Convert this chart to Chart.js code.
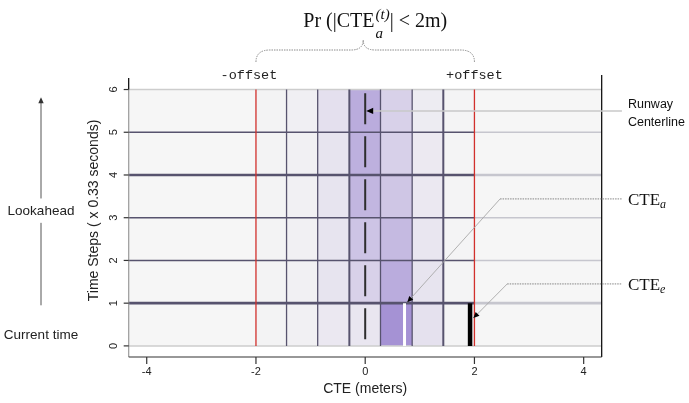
<!DOCTYPE html>
<html>
<head>
<meta charset="utf-8">
<script src="https://cdn.jsdelivr.net/npm/chart.js@4.4.0/dist/chart.umd.min.js"></script>
<style>
  html, body { margin: 0; padding: 0; background: #fff; }
  #wrap { width: 689px; height: 403px; }
</style>
</head>
<body>
<div id="wrap"><canvas id="cteChart" width="689" height="403"></canvas></div>
<script>
// axis ticks
var xTicks = [-4, -2, 0, 2, 4];
var yTicks = [0, 1, 2, 3, 4, 5, 6];

// heatmap grid: column edges (meters) and time step rows
var colEdges = [-2, -1.44, -0.87, -0.29, 0.28, 0.86, 1.43, 2];
var rowEdges = [0, 1, 2, 3, 4, 5, 6];
// shading level of each cell, bottom row (step 0) first
var cellLevels = [
    [0.02, 0.05, 0.12, 0.14, 0.94, 0.19, 0.01],
    [0.02, 0.05, 0.16, 0.34, 0.70, 0.16, 0.01],
    [0.02, 0.05, 0.16, 0.47, 0.56, 0.14, 0.01],
    [0.02, 0.05, 0.16, 0.60, 0.45, 0.12, 0.01],
    [0.02, 0.05, 0.16, 0.66, 0.35, 0.11, 0.01],
    [0.02, 0.06, 0.20, 0.70, 0.34, 0.09, 0.01]
];

var offsetLimit = 2;      // +/- offset (m)
var centerlineX = 0;
var cteActual = 0.72;     // CTE_a at current time
var cteEstimate = 1.92;   // CTE_e at current time
var currentStep = 1;
var thickRows = [1, 4];

var X_MIN = -4.33, X_MAX = 4.33, Y_MIN = -0.26, Y_MAX = 6.34;
var DARK = '#57536e';
var LIGHT = '#c6c6ce';
var SANS = '"Liberation Sans", Arial, sans-serif';
var SERIF = '"Liberation Serif", "Times New Roman", serif';
var MONO = '"Liberation Mono", "Courier New", monospace';

function seg(x0, y0, x1, y1, color, width, order, dash) {
    return {
        type: 'line',
        data: [{x: x0, y: y0}, {x: x1, y: y1}],
        borderColor: color,
        borderWidth: width,
        borderDash: dash || [],
        borderCapStyle: 'butt',
        pointRadius: 0,
        fill: false,
        order: order
    };
}

var datasets = [];
// horizontal step lines
rowEdges.forEach(function (r) {
    if (r === rowEdges[0] || r === rowEdges[rowEdges.length - 1]) {
        datasets.push(seg(X_MIN, r, X_MAX, r, '#cdcdcd', 1.5, 7));
    } else {
        var w = thickRows.indexOf(r) >= 0 ? 2.6 : 1.4;
        datasets.push(seg(X_MIN, r, offsetLimit, r, DARK, w, 6));
        datasets.push(seg(offsetLimit, r, X_MAX, r, LIGHT, w, 6));
    }
});
// column dividers
colEdges.slice(1, -1).forEach(function (c) {
    var w = (c === -0.29 || c === 1.43) ? 2 : 1.3;
    datasets.push(seg(c, 0, c, 6, DARK, w, 5));
});
// offset limits
datasets.push(seg(-offsetLimit, 0, -offsetLimit, 6, '#d2302c', 1.3, 4));
datasets.push(seg(offsetLimit, 0, offsetLimit, 6, '#d2302c', 1.3, 4));
// runway centerline
datasets.push(seg(centerlineX, 5.91, centerlineX, 0.13, '#2e2e2e', 2, 3, [31, 12]));
// CTE bars at current time
datasets.push(seg(cteActual, 0, cteActual, currentStep, '#ffffff', 3, 2));
datasets.push(seg(cteEstimate, 0, cteEstimate, currentStep, '#000000', 4.5, 2));

function cellColor(t) {
    var a = [245, 245, 245], b = [160, 140, 210];
    return 'rgb(' + a.map(function (v, i) { return Math.round(v + (b[i] - v) * t); }).join(',') + ')';
}

function arrowHead(ctx, x, y, angle, size) {
    ctx.save();
    ctx.translate(x, y);
    ctx.rotate(angle);
    ctx.beginPath();
    ctx.moveTo(0, 0);
    ctx.lineTo(size, -size * 0.45);
    ctx.lineTo(size, size * 0.45);
    ctx.closePath();
    ctx.fill();
    ctx.restore();
}

var decor = {
    id: 'cteDecor',
    beforeDatasetsDraw: function (chart) {
        var ctx = chart.ctx, xs = chart.scales.x, ys = chart.scales.y;
        ctx.save();
        ctx.fillStyle = '#f6f6f6';
        ctx.fillRect(xs.getPixelForValue(X_MIN), ys.getPixelForValue(6),
            xs.getPixelForValue(X_MAX) - xs.getPixelForValue(X_MIN), ys.getPixelForValue(0) - ys.getPixelForValue(6));
        cellLevels.forEach(function (row, r) {
            row.forEach(function (lv, c) {
                var x0 = xs.getPixelForValue(colEdges[c]), x1 = xs.getPixelForValue(colEdges[c + 1]);
                var y0 = ys.getPixelForValue(rowEdges[r]), y1 = ys.getPixelForValue(rowEdges[r + 1]);
                ctx.fillStyle = cellColor(lv);
                ctx.fillRect(x0, y1, x1 - x0, y0 - y1);
            });
        });
        ctx.restore();
    },
    afterDraw: function (chart) {
        var ctx = chart.ctx, xs = chart.scales.x, ys = chart.scales.y, a = chart.chartArea;
        ctx.save();
        // frame
        ctx.lineWidth = 1.2;
        ctx.strokeStyle = '#9a9a9a';
        ctx.beginPath(); ctx.moveTo(a.left, ys.getPixelForValue(6)); ctx.lineTo(a.left, a.bottom); ctx.stroke();
        ctx.strokeStyle = '#000';
        ctx.beginPath(); ctx.moveTo(a.left, a.top + 3); ctx.lineTo(a.left, ys.getPixelForValue(6)); ctx.stroke();
        ctx.beginPath(); ctx.moveTo(a.right, a.top); ctx.lineTo(a.right, a.bottom); ctx.stroke();
        ctx.strokeStyle = '#333';
        ctx.beginPath(); ctx.moveTo(a.left, a.bottom); ctx.lineTo(a.right, a.bottom); ctx.stroke();

        // x ticks
        ctx.fillStyle = '#222';
        ctx.font = '11px ' + SANS;
        ctx.textAlign = 'center';
        ctx.textBaseline = 'middle';
        xTicks.forEach(function (t) {
            var px = xs.getPixelForValue(t);
            ctx.beginPath(); ctx.moveTo(px, a.bottom); ctx.lineTo(px, a.bottom + 7); ctx.stroke();
            ctx.fillText(String(t), px, a.bottom + 15);
        });
        ctx.font = '14px ' + SANS;
        ctx.fillText('CTE (meters)', xs.getPixelForValue(0), a.bottom + 32);

        // y ticks (rotated like base R)
        ctx.font = '11px ' + SANS;
        yTicks.forEach(function (t) {
            var py = ys.getPixelForValue(t);
            ctx.strokeStyle = '#333';
            ctx.beginPath(); ctx.moveTo(a.left - 5, py); ctx.lineTo(a.left, py); ctx.stroke();
            ctx.save();
            ctx.translate(a.left - 15, py);
            ctx.rotate(-Math.PI / 2);
            ctx.fillText(String(t), 0, 0);
            ctx.restore();
        });
        ctx.save();
        ctx.font = '14px ' + SANS;
        ctx.translate(a.left - 35, ys.getPixelForValue(3.17));
        ctx.rotate(-Math.PI / 2);
        ctx.fillText('Time Steps ( x 0.33 seconds)', 0, 0);
        ctx.restore();

        // lookahead arrow on the far left
        var ax = 41;
        ctx.strokeStyle = '#555';
        ctx.fillStyle = '#333';
        ctx.lineWidth = 1;
        ctx.beginPath();
        ctx.moveTo(ax, ys.getPixelForValue(0.95)); ctx.lineTo(ax, ys.getPixelForValue(2.88));
        ctx.moveTo(ax, ys.getPixelForValue(3.45)); ctx.lineTo(ax, ys.getPixelForValue(5.7));
        ctx.stroke();
        arrowHead(ctx, ax, ys.getPixelForValue(5.82), Math.PI / 2, 6);
        ctx.fillStyle = '#222';
        ctx.font = '13.5px ' + SANS;
        ctx.fillText('Lookahead', ax, ys.getPixelForValue(3.14));
        ctx.fillText('Current time', ax, ys.getPixelForValue(0.25));

        // offset labels and brace
        ctx.font = '13.5px ' + MONO;
        ctx.fillText('-offset', xs.getPixelForValue(-offsetLimit) - 7, a.top);
        ctx.fillText('+offset', xs.getPixelForValue(offsetLimit), a.top);
        var xl = xs.getPixelForValue(-offsetLimit), xr = xs.getPixelForValue(offsetLimit);
        var xm = (xl + xr) / 2 - 2;
        ctx.strokeStyle = '#8a8a8a';
        ctx.lineWidth = 1;
        ctx.setLineDash([1.5, 1]);
        ctx.beginPath();
        ctx.moveTo(xl, 62);
        ctx.quadraticCurveTo(xl, 50, xl + 14, 50);
        ctx.lineTo(xm - 12, 50);
        ctx.quadraticCurveTo(xm, 50, xm, 40);
        ctx.quadraticCurveTo(xm, 50, xm + 12, 50);
        ctx.lineTo(xr - 14, 50);
        ctx.quadraticCurveTo(xr, 50, xr, 62);
        ctx.stroke();
        ctx.setLineDash([]);

        // title formula Pr(|CTE_a^(t)| < 2m)
        ctx.fillStyle = '#111';
        ctx.textAlign = 'left';
        ctx.textBaseline = 'alphabetic';
        var p1 = 'Pr (|CTE', p3 = '| < 2m)';
        ctx.font = '20px ' + SERIF;
        var w1 = ctx.measureText(p1).width, w3 = ctx.measureText(p3).width;
        ctx.font = 'italic 15px ' + SERIF;
        var w2 = ctx.measureText('(t)').width + 1;
        var tx = xs.getPixelForValue(0) + 10 - (w1 + w2 + w3) / 2;
        ctx.font = '20px ' + SERIF;
        ctx.fillText(p1, tx, 27);
        ctx.font = 'italic 15px ' + SERIF;
        ctx.fillText('(t)', tx + w1 + 1, 19);
        ctx.fillText('a', tx + w1 + 1, 38);
        ctx.font = '20px ' + SERIF;
        ctx.fillText(p3, tx + w1 + w2, 27);

        // annotations on the right
        var labelX = xs.getPixelForValue(4.81);
        var endX = xs.getPixelForValue(4.70);
        ctx.fillStyle = '#000';
        // runway centerline
        var cy = ys.getPixelForValue(5.5);
        ctx.strokeStyle = '#c8c8c8';
        ctx.lineWidth = 1.5;
        ctx.beginPath(); ctx.moveTo(xs.getPixelForValue(centerlineX) + 6, cy); ctx.lineTo(endX, cy); ctx.stroke();
        arrowHead(ctx, xs.getPixelForValue(centerlineX) + 1, cy, 0, 7);
        ctx.fillStyle = '#111';
        ctx.font = '12.5px ' + SANS;
        ctx.textBaseline = 'middle';
        ctx.fillText('Runway', labelX, 105);
        ctx.fillText('Centerline', labelX, 123);

        // CTE_a and CTE_e leaders
        [[cteActual + 0.05, currentStep + 0.02, 2.47, 3.44, 'a'],
         [cteEstimate + 0.06, 0.65, 2.6, 1.45, 'e']].forEach(function (l) {
            var sx = xs.getPixelForValue(l[0]), sy = ys.getPixelForValue(l[1]);
            var kx = xs.getPixelForValue(l[2]), ky = ys.getPixelForValue(l[3]);
            ctx.strokeStyle = '#a8a8a8';
            ctx.lineWidth = 0.9;
            ctx.setLineDash([]);
            ctx.beginPath(); ctx.moveTo(sx, sy); ctx.lineTo(kx, ky); ctx.stroke();
            ctx.strokeStyle = '#777';
            ctx.setLineDash([1.5, 1]);
            ctx.beginPath(); ctx.moveTo(kx, ky); ctx.lineTo(endX, ky); ctx.stroke();
            ctx.setLineDash([]);
            ctx.fillStyle = '#000';
            arrowHead(ctx, sx, sy, Math.atan2(ky - sy, kx - sx), 6);
            ctx.fillStyle = '#111';
            ctx.textBaseline = 'alphabetic';
            ctx.font = '17px ' + SERIF;
            ctx.fillText('CTE', labelX, ky + 6);
            var wc = ctx.measureText('CTE').width;
            ctx.font = 'italic 12px ' + SERIF;
            ctx.fillText(l[4], labelX + wc, ky + 9);
        });
        ctx.restore();
    }
};

var cteChart = new Chart(document.getElementById('cteChart'), {
    type: 'line',
    data: { datasets: datasets },
    options: {
        responsive: false,
        animation: false,
        events: [],
        layout: { padding: { left: 128.7, right: 87.3, top: 75, bottom: 46 } },
        plugins: { legend: { display: false }, tooltip: { enabled: false } },
        scales: {
            x: { type: 'linear', min: X_MIN, max: X_MAX, display: false },
            y: { type: 'linear', min: Y_MIN, max: Y_MAX, display: false }
        }
    },
    plugins: [decor]
});
</script>
</body>
</html>
